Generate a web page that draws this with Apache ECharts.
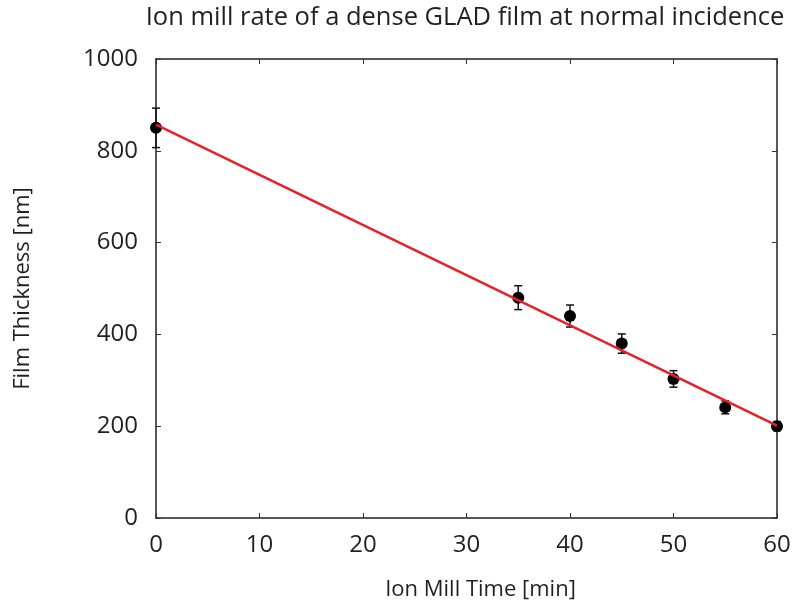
<!DOCTYPE html>
<html>
<head>
<meta charset="utf-8">
<script src="https://cdn.jsdelivr.net/npm/echarts@6/dist/echarts.min.js"></script>
<style>
  html, body { margin: 0; padding: 0; background: #fff; }
  #chart { width: 795px; height: 607px; }
</style>
</head>
<body>
<div id="chart"></div>
<script>
// Measured thickness after each milling step
const millTime = [0, 35, 40, 45, 50, 55, 60];
const thickness = [850, 480, 440, 380, 303, 241, 200];
const thicknessErr = [43, 26, 24, 21, 18, 14, 10];

// Linear fit endpoints
const fitTime = [0, 60];
const fitThickness = [857, 201];

const xTicks = [0, 10, 20, 30, 40, 50, 60];
const yTicks = [0, 200, 400, 600, 800, 1000];

const textColor = '#231f20';
const fontFamily = '"Open Sans", "Noto Sans", sans-serif';

const chart = echarts.init(document.getElementById('chart'), null, { renderer: 'canvas' });

const axisCommon = {
  axisLine: { show: true, onZero: false, lineStyle: { color: '#231f20', width: 1.5 } },
  axisTick: { show: true, inside: true, length: 5, lineStyle: { color: '#333', width: 1 } },
  splitLine: { show: false }
};

chart.setOption({
  animation: false,
  backgroundColor: '#fff',
  title: {
    text: 'Ion mill rate of a dense GLAD film at normal incidence',
    left: 460, top: 0, textAlign: 'center',
    textStyle: { color: textColor, fontFamily, fontSize: 25.5, fontWeight: 'normal' }
  },
  grid: { left: 156, right: 18, top: 59, bottom: 89 },
  xAxis: [
    Object.assign({
      type: 'value', min: xTicks[0], max: xTicks[xTicks.length - 1], interval: 10,
      name: 'Ion Mill Time [min]', nameLocation: 'middle', nameGap: 61,
      nameTextStyle: { color: textColor, fontFamily, fontSize: 22, padding: [0, 0, 0, 28] },
      axisLabel: { color: textColor, fontFamily, fontSize: 24, margin: 15 }
    }, axisCommon),
    Object.assign({
      type: 'value', position: 'top', min: xTicks[0], max: xTicks[xTicks.length - 1], interval: 10,
      axisLabel: { show: false }
    }, axisCommon)
  ],
  yAxis: [
    Object.assign({
      type: 'value', min: yTicks[0], max: yTicks[yTicks.length - 1], interval: 200,
      name: 'Film Thickness [nm]', nameLocation: 'middle', nameGap: 122,
      nameTextStyle: { color: textColor, fontFamily, fontSize: 22 },
      axisLabel: { color: textColor, fontFamily, fontSize: 24, margin: 18, formatter: v => String(v) }
    }, axisCommon),
    Object.assign({
      type: 'value', position: 'right', min: yTicks[0], max: yTicks[yTicks.length - 1], interval: 200,
      axisLabel: { show: false }
    }, axisCommon)
  ],
  series: [
    {
      type: 'custom',
      name: 'error',
      z: 3,
      data: millTime.map((t, i) => [t, thickness[i] - thicknessErr[i], thickness[i] + thicknessErr[i]]),
      renderItem: function (params, api) {
        const lo = api.coord([api.value(0), api.value(1)]);
        const hi = api.coord([api.value(0), api.value(2)]);
        const cap = 4;
        const style = { stroke: '#111', lineWidth: 1.5 };
        return {
          type: 'group',
          children: [
            { type: 'line', shape: { x1: lo[0], y1: lo[1], x2: hi[0], y2: hi[1] }, style },
            { type: 'line', shape: { x1: lo[0] - cap, y1: lo[1], x2: lo[0] + cap, y2: lo[1] }, style },
            { type: 'line', shape: { x1: hi[0] - cap, y1: hi[1], x2: hi[0] + cap, y2: hi[1] }, style }
          ]
        };
      }
    },
    {
      type: 'scatter',
      z: 4,
      symbol: 'circle',
      symbolSize: 12,
      itemStyle: { color: '#000', opacity: 1 },
      data: millTime.map((t, i) => [t, thickness[i]])
    },
    {
      type: 'line',
      z: 5,
      showSymbol: false,
      symbol: 'none',
      lineStyle: { color: '#e8202a', width: 2.5 },
      data: fitTime.map((t, i) => [t, fitThickness[i]])
    }
  ]
});
</script>
</body>
</html>
